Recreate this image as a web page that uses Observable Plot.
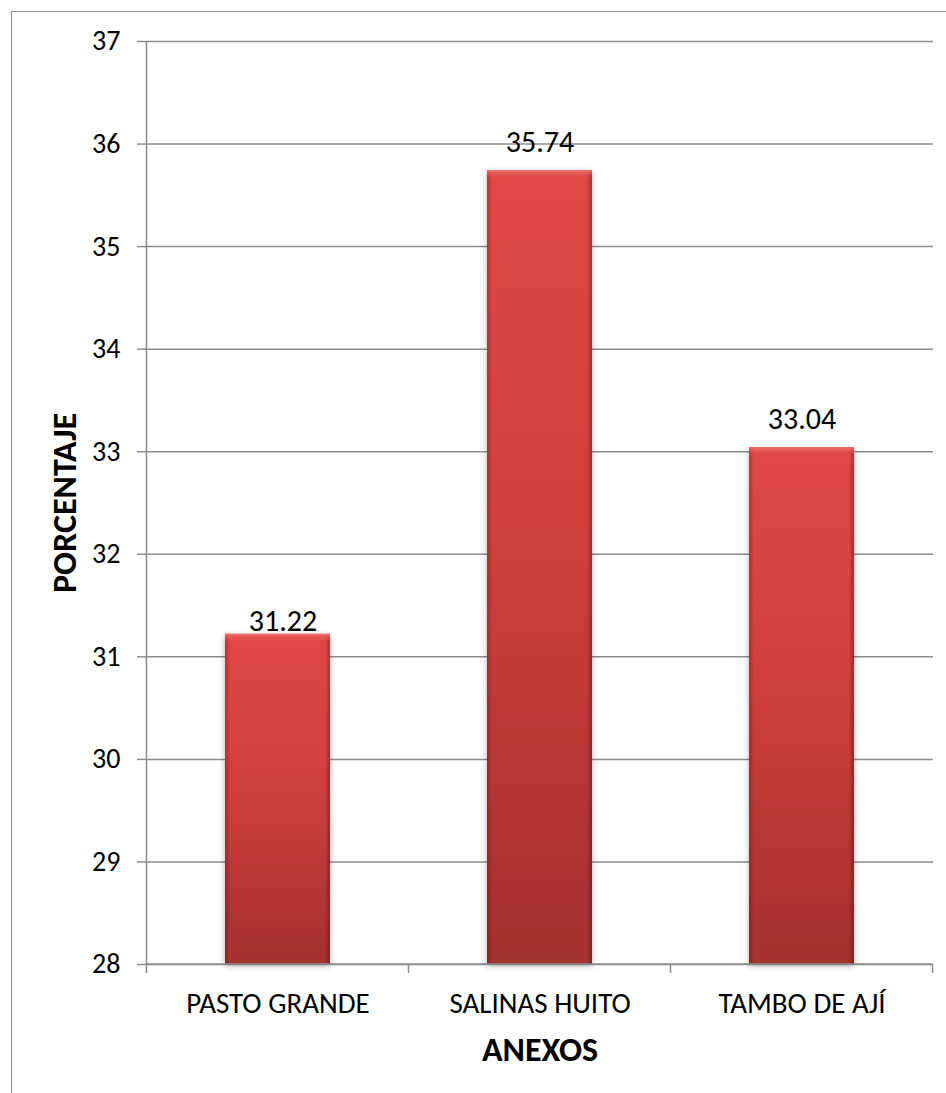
<!DOCTYPE html>
<html>
<head>
<meta charset="utf-8">
<script src="https://cdn.jsdelivr.net/npm/d3@7"></script>
<script src="https://cdn.jsdelivr.net/npm/@observablehq/plot@0.6"></script>
<style>
  html, body { margin: 0; padding: 0; background: #fff; }
  #chart { position: relative; width: 946px; height: 1093px; overflow: hidden; }
  /* outer chart-area border: top and left edges only */
  #border { position: absolute; left: 11px; top: 11px; right: -5px; bottom: -5px;
            border-top: 1.5px solid #8c8c8c; border-left: 1.5px solid #8c8c8c; }
  #chart svg { position: absolute; left: 0; top: 0; }
</style>
</head>
<body>
<div id="chart"><div id="border"></div></div>
<script>
// Porcentaje por anexo
const anexos = ["PASTO GRANDE", "SALINAS HUITO", "TAMBO DE AJÍ"];
const porcentaje = [31.22, 35.74, 33.04];
const yTicks = [28, 29, 30, 31, 32, 33, 34, 35, 36, 37];

const data = anexos.map((a, i) => ({anexo: a, valor: porcentaje[i]}));
const base = yTicks[0];
const font = "Carlito, Calibri, Lato, 'Open Sans', sans-serif";
const grey = "#8c8c8c";

const label = {x: "anexo", y: "valor", text: d => d.valor.toFixed(2),
               lineAnchor: "bottom", fontSize: 30, fill: "#000"};

const plot = Plot.plot({
  width: 946,
  height: 1093,
  marginLeft: 146,
  marginRight: 13,
  marginTop: 41,
  marginBottom: 129,
  style: {fontFamily: font, color: "#000", background: "transparent", overflow: "visible"},
  x: {domain: anexos, paddingInner: 0.6, paddingOuter: 0.3, label: null},
  y: {domain: [yTicks[0], yTicks[yTicks.length - 1]], label: null},
  marks: [
    Plot.gridY(yTicks, {stroke: grey, strokeOpacity: 1, strokeWidth: 1.5}),
    Plot.axisY({ticks: yTicks, tickSize: 9, tickPadding: 17, stroke: grey, strokeWidth: 1.5,
                fontSize: 28, label: null}),
    Plot.axisX({tickSize: 0, tickPadding: 28, fontSize: 29, label: null}),
    // bars: gradient body
    Plot.barY(data, {x: "anexo", y1: base, y2: "valor", fill: "url(#barGrad)",
                     className: "bar-body"}),
    // bars: darker side edges
    Plot.barY(data, {x: "anexo", y1: base, y2: "valor", fill: "url(#barSides)"}),
    // bars: lighter bevel along the top edge
    Plot.barY(data, {x: "anexo", y1: d => d.valor - 0.08, y2: "valor", fill: "url(#barTop)"}),
    // value labels (the first one sits closer to its bar)
    Plot.text(data, {...label, filter: (d, i) => i === 0, dx: 5, dy: -3}),
    Plot.text(data, {...label, filter: (d, i) => i > 0, dy: -19}),
    Plot.text(["PORCENTAJE"], {frameAnchor: "left", textAnchor: "middle", lineAnchor: "middle",
                               dx: -81, rotate: -90, fontSize: 34, fontWeight: "bold", fill: "#000"}),
    Plot.text(["ANEXOS"], {frameAnchor: "bottom", textAnchor: "middle", lineAnchor: "middle",
                           dy: 86, fontSize: 34, fontWeight: "bold", fill: "#000"})
  ]
});

const svg = d3.select(plot);
const defs = svg.insert("defs", ":first-child");

const g1 = defs.append("linearGradient").attr("id", "barGrad")
  .attr("x1", 0).attr("y1", 0).attr("x2", 0).attr("y2", 1);
g1.append("stop").attr("offset", 0).attr("stop-color", "#e04845");
g1.append("stop").attr("offset", 0.45).attr("stop-color", "#d1403d");
g1.append("stop").attr("offset", 1).attr("stop-color", "#a3302e");

const g2 = defs.append("linearGradient").attr("id", "barSides")
  .attr("x1", 0).attr("y1", 0).attr("x2", 1).attr("y2", 0);
g2.append("stop").attr("offset", 0).attr("stop-color", "#000").attr("stop-opacity", 0.22);
g2.append("stop").attr("offset", 0.05).attr("stop-color", "#000").attr("stop-opacity", 0);
g2.append("stop").attr("offset", 0.95).attr("stop-color", "#000").attr("stop-opacity", 0);
g2.append("stop").attr("offset", 1).attr("stop-color", "#000").attr("stop-opacity", 0.28);

const g3 = defs.append("linearGradient").attr("id", "barTop")
  .attr("x1", 0).attr("y1", 0).attr("x2", 0).attr("y2", 1);
g3.append("stop").attr("offset", 0).attr("stop-color", "#f07a75").attr("stop-opacity", 0.9);
g3.append("stop").attr("offset", 1).attr("stop-color", "#e04845").attr("stop-opacity", 0);

const f = defs.append("filter").attr("id", "barShadow")
  .attr("x", "-20%").attr("y", "-5%").attr("width", "140%").attr("height", "115%");
f.append("feDropShadow").attr("dx", 0).attr("dy", 2).attr("stdDeviation", 3)
  .attr("flood-color", "#000").attr("flood-opacity", 0.3);
svg.select(".bar-body").attr("filter", "url(#barShadow)");

// y axis line and category boundary ticks, placed with the plot's own scales
const sx = plot.scale("x"), sy = plot.scale("y");
const y0 = sy.apply(base), yTop = sy.apply(yTicks[yTicks.length - 1]);
const left = sx.apply(anexos[0]) - sx.step / 2 + sx.bandwidth / 2;
const ax = svg.append("g").attr("stroke", grey).attr("stroke-width", 1.5);
ax.append("line").attr("x1", left).attr("x2", left).attr("y1", yTop).attr("y2", y0 + 9);
const bounds = anexos.map(a => sx.apply(a) + sx.bandwidth / 2 + sx.step / 2);
bounds.forEach(b => ax.append("line").attr("x1", b).attr("x2", b).attr("y1", y0).attr("y2", y0 + 9));
ax.append("line").attr("x1", left).attr("x2", bounds[bounds.length - 1]).attr("y1", y0).attr("y2", y0);

document.getElementById("chart").appendChild(plot);
</script>
</body>
</html>
